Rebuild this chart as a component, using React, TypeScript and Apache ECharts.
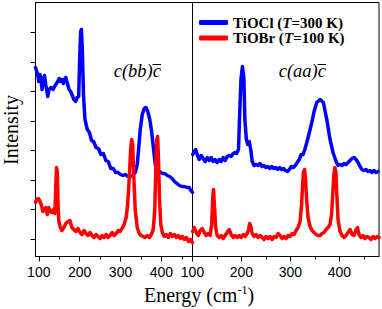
import React, { useEffect, useRef } from "react";
import * as echarts from "echarts";

// Left panel: c(bb)c̄ geometry
const blueBbE = [92,95,98,100,103,106,108,111,114,117,120,122,125,130,135,140,145,150,153,157,160,163,166,170,174,178,182,186,190,194,197.6,200,202.5,204.4,206.9,209.3,213,218.7,224,229,234,240,246,252,258,264,270,276,282,288,294,300,306,312,318,324,330,336,340.8,344.5,348.2,353.1,358,362.2,366.6,371.5,376.4,380.8,385,390,396,402,408,414,420,426,432,438,444,450,456,462,468,472,476];
const blueBbI = [189,185,181,175,182,175,167,177,181,172,165,160,167,169,167,171,174,178,175,177,173,177,179,173,167,165,161,157,155,159,160,197,225,227,202,162,137,127,124,116,115,109,108,102,103,96,95,88,88,84,84,82,81,82,80,80,81,84,92,109,127,142,148,149,145,137,124,107,92,85,85,83,83,81,80,78,75,73,71,70,70,69,69,66,64];

const redBbE = [92,95,99,102,106,110,113.5,117,121,124.5,128,132,135.6,139.3,141.8,143.5,145.2,147.2,149.1,152.8,156.5,161.4,166.3,171.3,176.2,181,186,190.9,195.8,200.7,205.7,210.6,215.5,220.4,225.3,230.2,235.1,240,245,249.9,254.8,259.7,264.6,269.5,274.4,279.4,284.3,289.2,294.1,299,303.9,308.8,313.8,317.4,321.1,324.8,327.3,329.7,332.2,335.9,340.8,345.7,350.6,355.5,360.4,365.4,370.3,375.2,380,383.8,386.2,388.7,390.7,392.9,395.3,398.5,402.2,407.1,412,417,421.9,426.8,431.7,436.6,441.5,446.4,451.4,456.3,461.2,466.1,471,475.9];
const redBbI = [54,57,58,56,52,45,47,49,42,49,45,44,47,43,72,89,85,52,35,29,26,29,33,35,36,29,27,25,28,24,22,26,23,21,24,21,19,22,20,18,21,19,22,19,21,24,21,23,26,25,28,32,39,52,77,107,117,112,82,47,29,23,21,20,19,21,19,22,27,47,87,117,120,97,57,32,24,20,22,19,23,20,22,19,21,18,20,17,19,15,17,14];

// Right panel: c(aa)c̄ geometry
const blueAaE = [100.4,103.5,106.5,109.6,113.7,117.8,121.8,125.9,130,134.1,138.2,142.2,146.3,150.4,154.5,158.6,162.7,166.7,170.8,174.9,179,183.1,187,190,194,196,199,202,205,207,210,213,216,219,222,226,230,234,238,242,246,250,254,258,262,266,270,274,278,282,286,290,294,298,302,306,310,314,318,322,326,329.5,333.5,339.2,343.7,348.4,353.9,360.6,367.3,374.3,381,387.1,393.3,397.3,401.4,405.5,409.6,413.7,417.8,421.8,425.9,430,434.1,438.2,442.2,446.3,450.4,454.5,458.6,462.7,466.7,470.8,474.9,479];
const blueAaI = [102,105,107,102,97,101,98,95,99,96,99,95,97,94,97,95,99,96,100,101,100,103,104,103,107,137,177,190,178,137,117,112,115,107,95,91,92,91,93,90,91,89,90,88,90,88,89,87,89,87,88,86,85,87,90,89,91,94,97,102,102,107,114,125,134,145,154,157,154,137,117,104,95,91,92,91,93,92,94,96,98,99,97,94,90,87,86,87,85,86,84,86,84,85];

const redAaE = [100.4,103.5,107.6,111.6,115.7,119.8,123.9,128,132,136.1,139.2,141.2,142.9,144.7,147.3,150.4,154.5,158.6,162.7,166.7,170.8,174.9,179,183.1,187.1,191.2,195.3,199.4,203.5,207.6,211.6,214.7,216.7,218.8,221.8,225.9,230,234.1,238.2,242.2,246.3,250.4,254.5,258.6,262.7,266.7,270.8,274.9,279,283.1,287.1,291.2,295.3,299.4,303.5,307.6,311.6,315.7,319.8,322.9,324.9,327,329,331,333.1,336.1,340.2,344.3,348.4,352.4,356.5,360.6,364.7,368.8,372.9,376.9,381,384.1,386.5,388.8,390.8,392.9,394.9,397.3,401.4,405.5,409.6,413.7,417.8,421.8,425.9,430,434.1,437.1,440.2,444.3,448.4,452.4,456.5,460.6,464.7,468.8,472.9,476.9,481];
const redAaI = [25,29,24,21,26,28,24,21,23,21,32,57,67,52,29,21,19,21,18,21,24,27,22,19,21,19,21,19,22,20,23,27,33,31,23,20,22,19,21,19,17,20,18,20,17,20,19,23,21,18,20,18,21,20,23,22,26,29,35,52,72,85,87,77,57,39,30,26,24,22,21,21,23,24,27,29,32,42,62,82,89,85,62,37,25,21,19,21,24,27,22,21,27,29,22,19,21,18,20,19,17,20,18,20,19];

const xTickLabels = [100, 200, 300, 400];
const xMinorTicks = [150, 250, 350, 450];
const yTicks = [17.5, 47, 76.5, 106, 135.5, 165, 194.5, 224];

const zip = (xs: number[], ys: number[]) => xs.map((x, i) => [x, ys[i]]);

const BLUE = "#0000ff";
const RED = "#ff0000";
const SERIF = "'Liberation Serif', 'Times New Roman', serif";
const SANS = "'Liberation Sans', Arial, sans-serif";

export default function App() {
  const ref = useRef<HTMLDivElement>(null);
  useEffect(() => {
    if (!ref.current) return;
    const chart = echarts.init(ref.current, null, { renderer: "svg" });
    const gridTop = 2.5;
    const gridH = 254;
    const mainX = (idx: number, min: number, max: number) => ({
      type: "value",
      gridIndex: idx,
      min,
      max,
      position: "bottom",
      axisLine: { show: true, lineStyle: { color: "#000", width: 1 } },
      axisTick: { show: true, inside: false, length: 5, customValues: xTickLabels, lineStyle: { color: "#000" } },
      axisLabel: { show: true, customValues: xTickLabels, margin: 8, color: "#000", fontSize: 14, fontFamily: SANS },
      splitLine: { show: false },
    });
    const minorX = (idx: number, min: number, max: number) => ({
      type: "value",
      gridIndex: idx,
      min,
      max,
      position: "bottom",
      offset: 0,
      axisLine: { show: false },
      axisTick: { show: true, inside: false, length: 3, customValues: xMinorTicks, lineStyle: { color: "#000" } },
      axisLabel: { show: false },
      splitLine: { show: false },
    });
    const line = (name: string, xi: number, color: string, data: number[][]) => ({
      name,
      type: "line",
      xAxisIndex: xi,
      yAxisIndex: xi < 2 ? 0 : 1,
      symbol: "none",
      data,
      lineStyle: { color, width: 3.5, join: "round", cap: "round" },
      itemStyle: { color },
      clip: true,
    });
    const legendFmt = (n: string) =>
      n === "TiOCl" ? "{b|TiOCl (}{i|T}{b|=300 K)}" : "{b|TiOBr (}{i|T}{b|=100 K)}";
    const legendText = {
      color: "#000",
      fontFamily: SERIF,
      fontWeight: "bold",
      fontSize: 15,
      lineHeight: 15,
      rich: {
        b: { fontFamily: SERIF, fontWeight: "bold", fontSize: 15, lineHeight: 15, color: "#000" },
        i: { fontFamily: SERIF, fontWeight: "bold", fontStyle: "italic", fontSize: 15, lineHeight: 15, color: "#000" },
      },
    };
    const legendBase = {
      orient: "vertical",
      left: 194,
      itemWidth: 29,
      itemHeight: 5,
      icon: "roundRect",
      formatter: legendFmt,
      textStyle: legendText,
    };
    chart.setOption({
      animation: false,
      backgroundColor: "#fff",
      grid: [
        { left: 35.5, top: gridTop, width: 157, height: gridH, show: true, borderColor: "#000", borderWidth: 1, backgroundColor: "transparent" },
        { left: 192.5, top: gridTop, width: 186.5, height: gridH, show: true, borderColor: "#000", borderWidth: 1, backgroundColor: "transparent" },
      ],
      xAxis: [mainX(0, 92, 476), minorX(0, 92, 476), mainX(1, 100, 481), minorX(1, 100, 481)],
      yAxis: [
        {
          type: "value", gridIndex: 0, min: 0, max: 254,
          axisLine: { show: true, lineStyle: { color: "#000" } },
          axisTick: { show: true, inside: false, length: 5, customValues: yTicks, lineStyle: { color: "#000" } },
          axisLabel: { show: false },
          splitLine: { show: false },
        },
        {
          type: "value", gridIndex: 1, min: 0, max: 254,
          axisLine: { show: true, lineStyle: { color: "#000" } },
          axisTick: { show: false },
          axisLabel: { show: false },
          splitLine: { show: false },
        },
      ],
      legend: [
        { ...legendBase, data: ["TiOCl"], top: 10 },
        { ...legendBase, data: ["TiOBr"], top: 25.5 },
      ],
      series: [
        line("TiOCl", 0, BLUE, zip(blueBbE, blueBbI)),
        line("TiOBr", 0, RED, zip(redBbE, redBbI)),
        line("TiOCl", 2, BLUE, zip(blueAaE, blueAaI)),
        line("TiOBr", 2, RED, zip(redAaE, redAaI)),
      ],
      graphic: [
        {
          type: "text",
          style: { x: 161, y: 71, text: "c(bb)c", fill: "#000", fontFamily: SERIF, fontStyle: "italic", fontSize: 18.5, textAlign: "right", textVerticalAlign: "middle" },
        },
        { type: "line", shape: { x1: 152.5, y1: 64.5, x2: 161, y2: 64.5 }, style: { stroke: "#000", lineWidth: 1 } },
        {
          type: "text",
          style: { x: 326, y: 71, text: "c(aa)c", fill: "#000", fontFamily: SERIF, fontStyle: "italic", fontSize: 18.5, textAlign: "right", textVerticalAlign: "middle" },
        },
        { type: "line", shape: { x1: 317.5, y1: 64.5, x2: 326, y2: 64.5 }, style: { stroke: "#000", lineWidth: 1 } },
        {
          type: "text",
          style: {
            x: 199, y: 295, text: "{a|Energy (cm}{s|-1}{a|)}",
            textAlign: "center", textVerticalAlign: "middle",
            rich: {
              a: { fontFamily: SERIF, fontSize: 20, lineHeight: 22, fill: "#000", color: "#000" },
              s: { fontFamily: SERIF, fontSize: 12, lineHeight: 22, verticalAlign: "top", fill: "#000", color: "#000" },
            },
          },
        },
        {
          type: "text",
          x: 11, y: 130, rotation: Math.PI / 2,
          style: { x: 0, y: 0, text: "Intensity", fill: "#000", fontFamily: SERIF, fontSize: 20, lineHeight: 20, textAlign: "center", textVerticalAlign: "middle" },
        },
      ],
    });
    return () => chart.dispose();
  }, []);
  return <div ref={ref} style={{ position: "fixed", left: 0, top: 0, width: 382, height: 309 }} />;
}
